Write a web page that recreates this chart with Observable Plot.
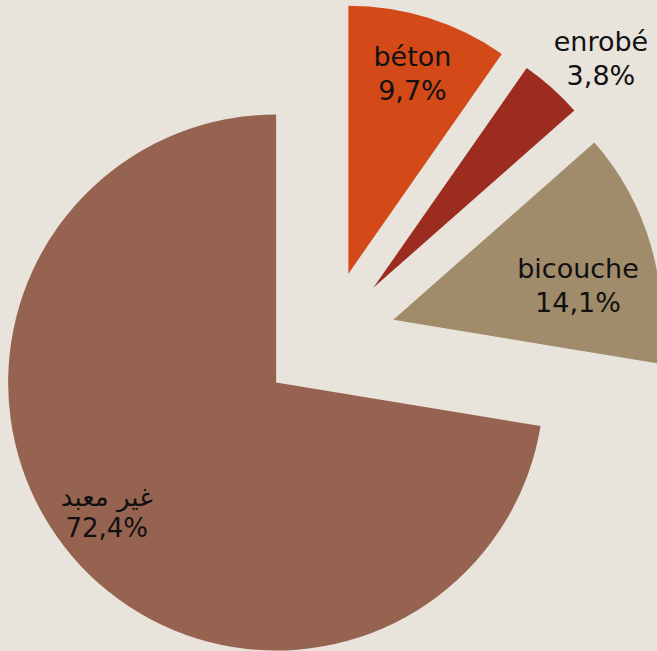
<!DOCTYPE html>
<html><head><meta charset="utf-8">
<script src="https://cdn.jsdelivr.net/npm/d3@7"></script>
<script src="https://cdn.jsdelivr.net/npm/@observablehq/plot@0.6"></script>
<style>html,body{margin:0;padding:0;background:#E8E4DC;overflow:hidden}</style>
</head><body><div id="chart"></div>
<script>
// ---- data ----
const categories = ["béton", "enrobé", "bicouche", "غير معبد"];
const shares = [9.7, 3.8, 14.1, 72.4];
const shareLabels = ["9,7%", "3,8%", "14,1%", "72,4%"];
const colors = ["#D34A18", "#9B2C1F", "#A08B6A", "#966350"];

// ---- layout ----
const W = 657, H = 651;
const R = 268, EXPLODE = 68, CX = 328, CY = 338.5;
const labelRadius = [0.79, 1.21, 0.70, 0.795];
const labelShiftDeg = [0, 2.7, 5, 3.2];
const explodeU = EXPLODE / R;

const rows = categories.map((c, i) => ({category: c, value: shares[i], label: shareLabels[i], color: colors[i], i}));
const arcs = d3.pie().sort(null).value(d => d.value)(rows);
arcs.forEach(a => {
  const mid = (a.startAngle + a.endAngle) / 2;
  a.ox = explodeU * Math.sin(mid);
  a.oy = -explodeU * Math.cos(mid);
  const la = mid + labelShiftDeg[a.data.i] * Math.PI / 180;
  const k = labelRadius[a.data.i];
  a.lx = a.ox + k * Math.sin(la);
  a.ly = a.oy - k * Math.cos(la);
});

const slices = (index, scales) => {
  const sx = scales.x, sy = scales.y;
  const r = sx(1) - sx(0);
  const arcGen = d3.arc().innerRadius(0).outerRadius(r);
  const g = d3.create("svg:g");
  g.selectAll("path").data(arcs).join("path")
    .attr("d", d => arcGen(d))
    .attr("fill", d => d.data.color)
    .attr("transform", d => `translate(${sx(d.ox)},${sy(d.oy)})`);
  return g.node();
};

const latin = arcs.filter(a => a.data.i < 3);
const arabic = arcs.filter(a => a.data.i === 3);

const chart = Plot.plot({
  width: W, height: H, margin: 0,
  style: {background: "#E8E4DC"},
  x: {domain: [-CX / R, (W - CX) / R], range: [0, W], axis: null},
  y: {domain: [-CY / R, (H - CY) / R], range: [0, H], axis: null},
  marks: [
    slices,
    Plot.text(latin, {
      x: "lx", y: "ly", text: d => d.data.category + "\n" + d.data.label,
      fontSize: 27, lineHeight: 1.26, fill: "#111", fontFamily: "DejaVu Sans"
    }),
    Plot.text(arabic, {
      x: "lx", y: "ly", text: d => d.data.category + "\n" + d.data.label,
      fontSize: 26, lineHeight: 1.2, fill: "#111", fontFamily: "DejaVu Sans"
    })
  ]
});
document.getElementById("chart").appendChild(chart);
</script>
</body></html>
